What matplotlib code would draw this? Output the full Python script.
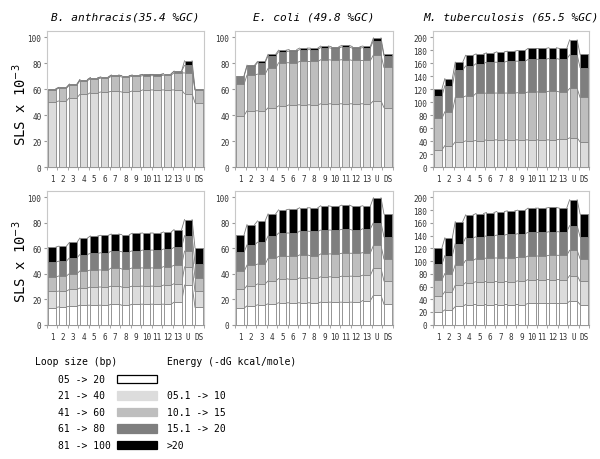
import matplotlib
matplotlib.use("Agg")
import matplotlib.pyplot as plt
from matplotlib.patches import Rectangle
import numpy as np

positions = ["1", "2", "3", "4", "5", "6", "7", "8", "9", "10", "11", "12", "13", "U", "DS"]
titles = ["B. anthracis(35.4 %GC)", "E. coli (49.8 %GC)", "M. tuberculosis (65.5 %GC)"]

energy_labels = ["05.1 -> 10", "10.1 -> 15", "15.1 -> 20", ">20"]
loop_labels = ["05 -> 20", "21 -> 40", "41 -> 60", "61 -> 80", "81 -> 100"]

# energy classes (top row), SLS x 10^-3
ba_e_05_10 = [50.4, 51.0, 53.5, 56.0, 57.4, 57.9, 58.4, 57.9, 58.7, 59.5, 59.5, 59.5, 59.5, 56.6, 49.6]
ba_e_10_15 = [9.4, 9.8, 9.7, 10.6, 10.7, 10.7, 11.6, 11.6, 11.3, 11.0, 11.0, 11.4, 13.2, 16.0, 9.8]
ba_e_15_20 = [0.6, 0.6, 0.7, 0.8, 0.8, 0.8, 0.9, 0.9, 0.9, 0.9, 0.9, 1.0, 1.2, 5.9, 0.5]
ba_e_20 = [0.1, 0.1, 0.1, 0.1, 0.1, 0.1, 0.1, 0.1, 0.1, 0.1, 0.1, 0.1, 0.1, 3.5, 0.1]

ec_e_05_10 = [39.7, 43.4, 43.4, 45.7, 47.2, 48.0, 48.0, 48.0, 48.8, 48.8, 48.8, 48.8, 48.8, 51.1, 45.9]
ec_e_10_15 = [24.3, 27.6, 28.3, 30.4, 33.3, 32.5, 33.5, 33.5, 34.0, 33.8, 34.0, 33.5, 33.5, 35.4, 31.0]
ec_e_15_20 = [6.0, 6.8, 8.9, 9.7, 8.5, 9.0, 9.1, 9.1, 9.4, 9.1, 9.9, 9.4, 9.9, 11.0, 9.1]
ec_e_20 = [0.6, 0.8, 0.9, 1.2, 1.2, 1.2, 1.2, 1.2, 1.2, 1.2, 1.2, 1.2, 1.2, 2.2, 1.0]

mt_e_05_10 = [26.4, 33.0, 38.8, 40.3, 40.8, 41.9, 41.9, 41.9, 41.9, 41.9, 41.9, 41.9, 42.9, 45.0, 38.8]
mt_e_10_15 = [48.6, 52.3, 68.7, 69.3, 72.9, 72.3, 72.3, 72.3, 72.8, 73.9, 74.1, 75.1, 73.1, 76.4, 68.7]
mt_e_15_20 = [34.6, 40.3, 42.4, 46.4, 46.0, 47.6, 47.6, 49.2, 48.7, 50.2, 50.5, 50.5, 50.5, 51.8, 46.1]
mt_e_20 = [11.0, 10.9, 12.0, 16.5, 14.9, 14.4, 16.0, 15.4, 16.5, 17.1, 16.6, 16.6, 16.6, 23.1, 20.5]

# loop size classes (bottom row)
ba_l_05_20 = [13.5, 14.0, 14.5, 15.3, 15.3, 15.3, 16.1, 15.3, 16.1, 16.1, 16.1, 16.1, 17.7, 31.1, 13.7]
ba_l_21_40 = [12.6, 12.4, 13.2, 13.5, 14.3, 14.3, 14.2, 14.3, 14.2, 14.2, 14.2, 15.0, 14.5, 14.3, 12.4]
ba_l_41_60 = [11.4, 11.9, 12.4, 13.4, 13.4, 13.4, 14.3, 14.2, 14.3, 14.3, 14.3, 14.5, 14.5, 12.4, 10.8]
ba_l_61_80 = [11.8, 11.6, 12.4, 12.9, 13.0, 13.5, 13.2, 13.5, 13.4, 14.0, 14.0, 13.8, 14.0, 12.1, 11.1]
ba_l_81_100 = [11.7, 11.8, 12.1, 12.9, 13.7, 13.7, 13.4, 13.4, 13.8, 13.4, 13.4, 13.4, 14.0, 12.7, 12.4]

ec_l_05_20 = [13.0, 14.8, 15.6, 16.4, 17.2, 17.2, 17.2, 17.2, 17.7, 17.7, 17.7, 17.7, 19.0, 23.0, 16.1]
ec_l_21_40 = [14.8, 15.9, 16.4, 18.0, 19.0, 18.5, 19.6, 19.6, 19.9, 19.9, 20.4, 20.4, 19.9, 21.2, 18.3]
ec_l_41_60 = [14.0, 16.1, 15.6, 17.7, 17.5, 18.0, 18.0, 17.4, 18.0, 18.0, 18.0, 18.0, 17.7, 18.0, 17.2]
ec_l_61_80 = [15.1, 15.9, 17.2, 17.5, 18.3, 18.3, 18.7, 19.1, 18.7, 18.7, 18.8, 18.2, 18.8, 18.0, 17.4]
ec_l_81_100 = [13.7, 15.9, 16.7, 17.4, 18.2, 18.7, 18.3, 18.5, 19.1, 18.6, 19.0, 18.6, 18.0, 19.5, 18.0]

mt_l_05_20 = [20.1, 23.3, 28.6, 31.7, 31.7, 31.7, 31.7, 31.7, 31.7, 33.3, 33.3, 33.3, 33.3, 37.0, 31.7]
mt_l_21_40 = [25.4, 28.6, 33.3, 34.4, 36.0, 36.0, 36.0, 36.0, 37.1, 37.6, 37.6, 37.6, 37.6, 40.2, 36.6]
mt_l_41_60 = [24.9, 28.5, 32.3, 34.9, 36.0, 37.1, 37.1, 37.1, 37.0, 37.0, 37.0, 38.1, 38.1, 39.7, 35.4]
mt_l_61_80 = [24.3, 28.1, 33.3, 35.5, 34.4, 34.9, 35.9, 37.0, 37.1, 37.1, 37.1, 37.0, 37.0, 38.7, 34.4]
mt_l_81_100 = [25.9, 28.0, 34.4, 36.0, 36.5, 36.5, 37.1, 37.0, 37.0, 38.1, 38.1, 38.1, 37.1, 40.7, 36.0]

energy_colors = ["#dcdcdc", "#bebebe", "#7f7f7f", "#000000"]
loop_colors = ["#ffffff", "#dcdcdc", "#bebebe", "#7f7f7f", "#000000"]

top_data = [
    [ba_e_05_10, ba_e_10_15, ba_e_15_20, ba_e_20],
    [ec_e_05_10, ec_e_10_15, ec_e_15_20, ec_e_20],
    [mt_e_05_10, mt_e_10_15, mt_e_15_20, mt_e_20],
]
bottom_data = [
    [ba_l_05_20, ba_l_21_40, ba_l_41_60, ba_l_61_80, ba_l_81_100],
    [ec_l_05_20, ec_l_21_40, ec_l_41_60, ec_l_61_80, ec_l_81_100],
    [mt_l_05_20, mt_l_21_40, mt_l_41_60, mt_l_61_80, mt_l_81_100],
]
ymax = [100, 100, 200]

mono = "DejaVu Sans Mono"
plt.rcParams["font.family"] = mono

fig = plt.figure(figsize=(6, 4.6), dpi=100)
W, H = 600.0, 460.0
lefts = [47, 235, 433]
widths = [157, 158, 156]
rows = [(32, 168), (192, 325.7)]
bw = 0.72


def stacked(ax, series, colors, top):
    x = np.arange(len(positions))
    bottom = np.zeros(len(positions))
    for vals, c in zip(series, colors):
        vals = np.array(vals)
        ax.bar(x, vals, bw, bottom=bottom, color=c, edgecolor="#858585",
               linewidth=0.6, zorder=3)
        bottom = bottom + vals
        # series lines joining the segment tops between bars
        xs, ys = [], []
        for i in range(len(x) - 1):
            xs += [x[i] + bw / 2, x[i + 1] - bw / 2, np.nan]
            ys += [bottom[i], bottom[i + 1], np.nan]
        ax.plot(xs, ys, color="#7a7a7a", linewidth=0.6, zorder=2)
    ax.set_xlim(-0.5, len(x) - 0.5)
    ax.set_ylim(0, top * 1.05)
    ax.set_yticks(np.arange(0, top + 1, 20))
    ax.set_xticks(x)
    ax.set_xticklabels(positions)
    ax.set_xticks(np.arange(-0.5, len(x), 1), minor=True)
    ax.tick_params(axis="x", which="major", length=0, labelsize=5.5, pad=5, colors="#333333")
    ax.tick_params(axis="x", which="minor", length=2.5, color="#999999")
    ax.tick_params(axis="y", length=2, labelsize=5.5, pad=2, color="#999999", labelcolor="#333333")
    for s in ax.spines.values():
        s.set_color("#c8c8c8")
        s.set_linewidth(0.8)
    ax.spines["bottom"].set_color("#999999")


for r, (ytop, ybot) in enumerate(rows):
    data = top_data if r == 0 else bottom_data
    colors = energy_colors if r == 0 else loop_colors
    for c in range(3):
        ax = fig.add_axes([lefts[c] / W, 1 - ybot / H, widths[c] / W, (ybot - ytop) / H])
        stacked(ax, data[c], colors, ymax[c])
        if r == 0:
            fig.text((lefts[c] + widths[c] / 2) / W, 1 - 17 / H, titles[c],
                     ha="center", va="center", fontsize=8, fontstyle="italic")

for yc in [105, 262]:
    fig.text(20 / W, 1 - yc / H, r"SLS x 10$^{-3}$", rotation=90, ha="center",
             va="center", fontsize=10)

# legend
fig.text(35 / W, 1 - 362 / H, "Loop size (bp)", fontsize=7, va="center")
fig.text(167 / W, 1 - 362 / H, "Energy (-dG kcal/mole)", fontsize=7, va="center")
row_y = [380, 396.5, 413, 429.5, 446]
for i, y in enumerate(row_y):
    fig.text(58 / W, 1 - y / H, loop_labels[i], fontsize=7, va="center")
    ec = "black" if i == 0 else loop_colors[i]
    fig.add_artist(Rectangle((117 / W, 1 - (y + 4.2) / H), 40 / W, 8.4 / H,
                             facecolor=loop_colors[i], edgecolor=ec, linewidth=0.9,
                             transform=fig.transFigure))
    if i > 0:
        fig.text(167 / W, 1 - y / H, energy_labels[i - 1], fontsize=7, va="center")

fig.savefig("out.png", dpi=100)
